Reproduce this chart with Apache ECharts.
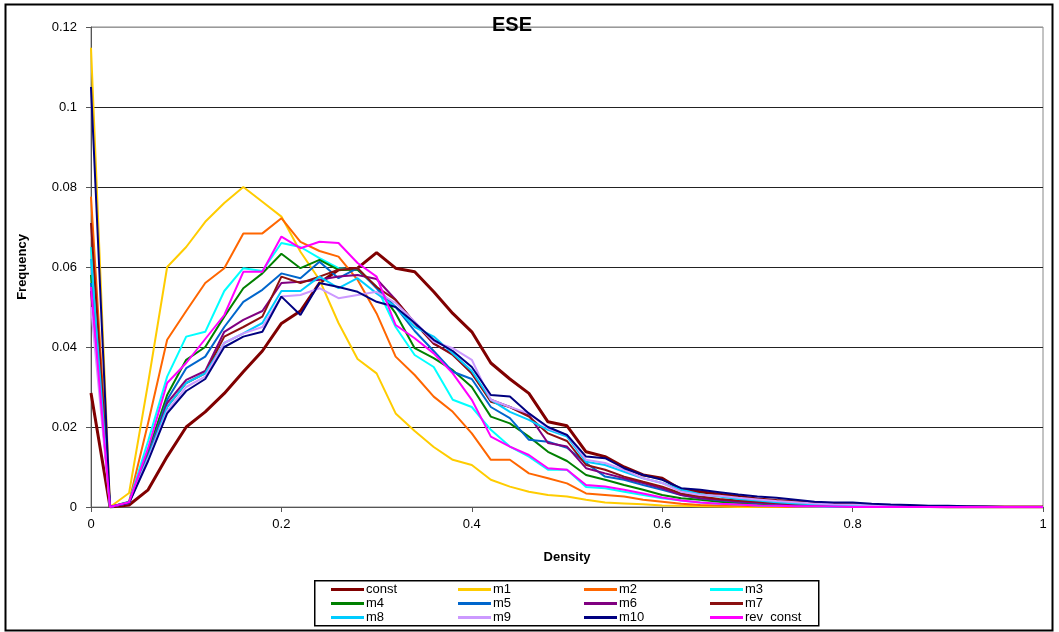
<!DOCTYPE html>
<html><head><meta charset="utf-8">
<script src="https://cdn.jsdelivr.net/npm/echarts@6/dist/echarts.min.js"></script>
<style>html,body{margin:0;padding:0;background:#fff}#c{width:1059px;height:632px}</style>
</head><body><div id="c"></div>
<script>
const densities = [];
for (let i = 0; i <= 50; i++) densities.push(+(i * 0.02).toFixed(2));

const seriesNames = ['const','m1','m2','m3','m4','m5','m6','m7','m8','m9','m10','rev  const'];
const constVals = [0.0285,0,0.0005,0.0043,0.0126,0.020,0.0238,0.0284,0.0338,0.039,0.0459,0.049,0.056,0.0593,0.0597,0.0636,0.0597,0.0588,0.0538,0.0484,0.0438,0.036,0.032,0.0284,0.0213,0.0203,0.0138,0.0126,0.010,0.008,0.0072,0.0043,0.0038,0.0032,0.0026,0.002,0.0016,0.0013,0.001,0.0008,0.0006,0.0004,0.0003,0.0002,0.0001,0,0,0,0,0,0];
const m1Vals = [0.1148,0,0.0035,0.031,0.060,0.065,0.0713,0.076,0.080,0.0763,0.0726,0.0638,0.0568,0.046,0.037,0.0334,0.0234,0.019,0.015,0.0118,0.0105,0.0068,0.0051,0.0038,0.003,0.0026,0.0018,0.0011,0.0009,0.0007,0.0004,0.0003,0.0002,0.0001,0,0,0,0,0,0,0,0,0,0,0,0,0,0,0,0,0];
const m2Vals = [0.0776,0,0.0013,0.021,0.0418,0.049,0.056,0.0597,0.0684,0.0684,0.0722,0.0663,0.064,0.0626,0.0568,0.0484,0.0376,0.0330,0.0276,0.0238,0.0184,0.0118,0.0118,0.0084,0.0072,0.0059,0.0034,0.003,0.0026,0.0018,0.0013,0.0008,0.0005,0.0004,0.0003,0.0002,0.0001,0,0,0,0,0,0,0,0,0,0,0,0,0,0];
const m3Vals = [0.065,0,0.0013,0.0165,0.0326,0.0426,0.0438,0.054,0.0597,0.059,0.066,0.065,0.0622,0.0597,0.0593,0.055,0.045,0.038,0.035,0.0268,0.025,0.0193,0.0151,0.0126,0.0093,0.0093,0.005,0.0047,0.0038,0.003,0.0022,0.0016,0.0011,0.0008,0.0006,0.0004,0.0003,0.0002,0.0001,0,0,0,0,0,0,0,0,0,0,0,0];
const m4Vals = [0.058,0,0.0012,0.014,0.028,0.0368,0.040,0.0476,0.0547,0.0584,0.0633,0.0597,0.0618,0.0593,0.0593,0.055,0.0484,0.0397,0.0372,0.0342,0.030,0.0226,0.0209,0.0176,0.0138,0.0115,0.008,0.0068,0.0055,0.0043,0.003,0.0022,0.0018,0.0013,0.001,0.0008,0.0006,0.0004,0.0003,0.0002,0.0001,0,0,0,0,0,0,0,0,0,0];
const m5Vals = [0.056,0,0.0012,0.013,0.0268,0.0347,0.0376,0.045,0.0513,0.0543,0.0584,0.0572,0.0613,0.0572,0.0597,0.0547,0.050,0.0440,0.039,0.0338,0.032,0.025,0.0222,0.0168,0.0163,0.0148,0.011,0.0076,0.0068,0.0055,0.0043,0.003,0.0022,0.0017,0.0013,0.001,0.0008,0.0006,0.0004,0.0003,0.0002,0.0001,0,0,0,0,0,0,0,0,0];
const m6Vals = [0.054,0,0.0011,0.0125,0.026,0.0318,0.034,0.0438,0.0468,0.049,0.056,0.0563,0.0568,0.0576,0.058,0.057,0.0518,0.046,0.0408,0.0383,0.0334,0.0268,0.025,0.0229,0.016,0.0151,0.0097,0.0084,0.0072,0.006,0.0047,0.003,0.0022,0.0018,0.0014,0.0011,0.0009,0.0007,0.0005,0.0004,0.0003,0.0002,0.0001,0,0,0,0,0,0,0,0];
const m7Vals = [0.071,0,0.0011,0.0125,0.025,0.031,0.0334,0.0426,0.045,0.0476,0.0576,0.056,0.0576,0.0593,0.0597,0.055,0.0518,0.046,0.0409,0.0380,0.0334,0.0263,0.025,0.0226,0.0184,0.0165,0.0105,0.0093,0.0076,0.0063,0.0051,0.0034,0.0026,0.002,0.0016,0.0013,0.001,0.0008,0.0006,0.0004,0.0003,0.0002,0.0001,0,0,0,0,0,0,0,0];
const m8Vals = [0.062,0,0.0011,0.0125,0.025,0.031,0.0334,0.041,0.0434,0.046,0.054,0.054,0.0576,0.0547,0.0572,0.0534,0.050,0.045,0.0426,0.0384,0.034,0.0268,0.0238,0.0218,0.0193,0.0176,0.0113,0.0105,0.0088,0.0072,0.006,0.0043,0.0032,0.0026,0.002,0.0016,0.0012,0.0009,0.0007,0.0005,0.0004,0.0003,0.0002,0.0001,0,0,0,0,0,0,0];
const m9Vals = [0.050,0,0.001,0.012,0.024,0.030,0.0326,0.041,0.0434,0.045,0.0526,0.053,0.0547,0.0522,0.053,0.0538,0.051,0.0463,0.0413,0.0397,0.0368,0.0268,0.025,0.0234,0.0197,0.018,0.0118,0.011,0.0093,0.0072,0.006,0.0038,0.003,0.0028,0.0023,0.0019,0.0015,0.0012,0.0009,0.0007,0.0006,0.0005,0.0004,0.0003,0.0002,0.0001,0,0,0,0,0];
const m10Vals = [0.105,0,0.001,0.0115,0.0234,0.029,0.032,0.040,0.0426,0.0438,0.0526,0.048,0.056,0.055,0.0538,0.0513,0.050,0.046,0.0418,0.039,0.035,0.028,0.0276,0.0234,0.020,0.018,0.0126,0.0122,0.0097,0.008,0.0068,0.0047,0.0043,0.0037,0.0031,0.0026,0.0023,0.0018,0.0013,0.0011,0.0011,0.0008,0.0006,0.0005,0.0003,0.0003,0.0002,0.0001,0,0,0];
const revConstVals = [0.055,0,0.0012,0.0147,0.031,0.036,0.042,0.048,0.0588,0.0588,0.0676,0.0647,0.0663,0.066,0.061,0.0576,0.0455,0.0422,0.0384,0.0334,0.0268,0.0176,0.0151,0.013,0.0097,0.0093,0.0055,0.0051,0.0043,0.0034,0.0024,0.0016,0.0011,0.0008,0.0006,0.0004,0.0003,0.0002,0.0002,0.0001,0,0,0,0,0,0,0,0,0,0,0];

const allVals = [constVals,m1Vals,m2Vals,m3Vals,m4Vals,m5Vals,m6Vals,m7Vals,m8Vals,m9Vals,m10Vals,revConstVals];
const colors = ['#800000','#FFCC00','#FF6600','#00FFFF','#008000','#0066CC','#800080','#8B1010','#00CCFF','#CC99FF','#000080','#FF00FF'];
const widths = [3,2,2,2,2,2,2,2,2,2,2,2];

const chart = echarts.init(document.getElementById('c'), null, {renderer:'canvas'});
const FONT = '"Liberation Sans", Arial, sans-serif';

const series = seriesNames.map((n,i)=>({
  name:n, type:'line', showSymbol:false, symbol:'none',
  data: densities.map((d,j)=>[d, allVals[i][j]]),
  lineStyle:{color:colors[i], width:widths[i]},
  itemStyle:{color:colors[i]},
  animation:false
}));

const legendCols = [['const','m4','m8'],['m1','m5','m9'],['m2','m6','m10'],['m3','m7','rev  const']];
const legendLefts = [331,458,584,710];
const legends = legendCols.map((c,i)=>({
  data:c, orient:'vertical', left:legendLefts[i], top:583, itemGap:1,
  itemWidth:33, itemHeight:3, icon:'rect',
  textStyle:{fontFamily:FONT, fontSize:13, color:'#000', padding:[0,0,0,-3], lineHeight:13},
  padding:0, selectedMode:false
}));

chart.setOption({
  animation:false,
  title:{text:'ESE', left:507, top:10, textAlign:'center',
    textStyle:{fontFamily:FONT, fontSize:20, fontWeight:'bold', color:'#000'}},
  grid:{left:91, top:27, right:16, bottom:125, show:true, borderColor:'#888', borderWidth:1},
  legend:legends,
  xAxis:{type:'value', min:0, max:1, interval:0.2,
    name:'Density', nameLocation:'middle', nameGap:44,
    nameTextStyle:{fontFamily:FONT, fontSize:13, fontWeight:'bold', color:'#000'},
    axisLine:{lineStyle:{color:'#555', width:1}},
    axisTick:{show:true, inside:false, length:5, lineStyle:{color:'#555'}},
    axisLabel:{fontFamily:FONT, fontSize:13, color:'#000', margin:11,
      formatter:v=>String(+v.toFixed(2))},
    splitLine:{show:false}},
  yAxis:{type:'value', min:0, max:0.12, interval:0.02,
    name:'Frequency', nameLocation:'middle', nameGap:62, nameRotate:90,
    nameTextStyle:{fontFamily:FONT, fontSize:13, fontWeight:'bold', color:'#000'},
    axisLine:{show:true, lineStyle:{color:'#555', width:1}},
    axisTick:{show:true, inside:false, length:5, lineStyle:{color:'#555'}},
    axisLabel:{fontFamily:FONT, fontSize:13, color:'#000', margin:14,
      formatter:v=>String(+v.toFixed(2))},
    splitLine:{show:true, lineStyle:{color:['#222','#222','#222','#222','#222','#222','#999'], width:1}}},
  graphic:[
    {type:'rect', left:3, top:2, shape:{width:1047, height:626},
      style:{fill:'none', stroke:'#000', lineWidth:2}, silent:true, z:-1},
    {type:'rect', left:314, top:580, shape:{width:504, height:45},
      style:{fill:'#fff', stroke:'#000', lineWidth:1.5}, silent:true, z:-1}
  ],
  series:series
});
</script></body></html>
